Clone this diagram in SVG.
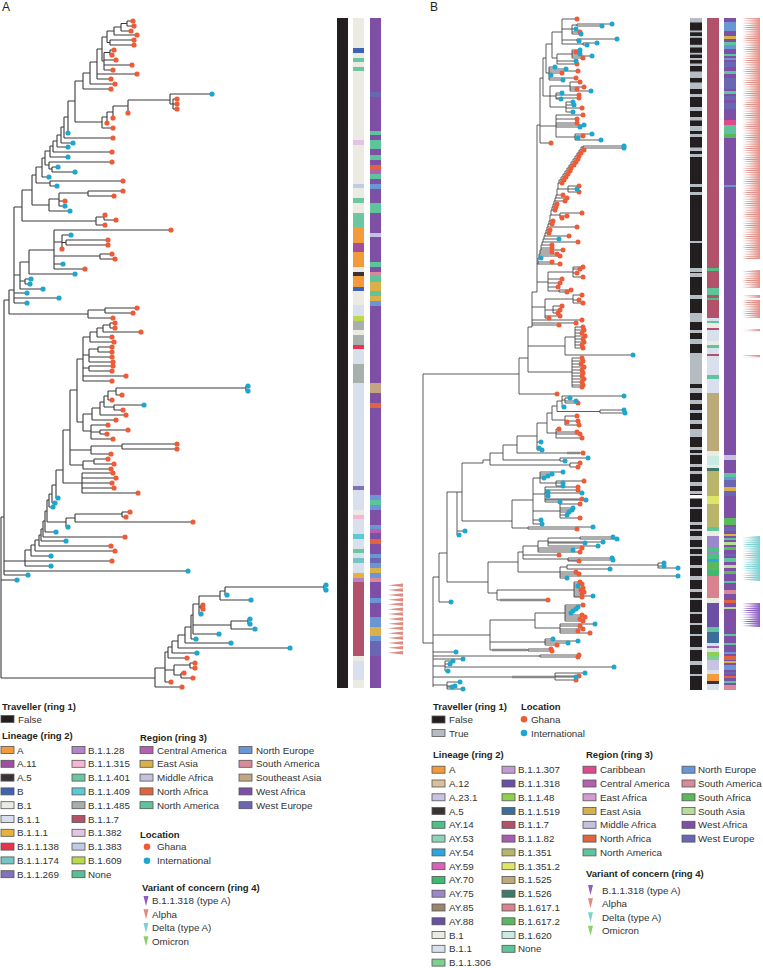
<svg xmlns="http://www.w3.org/2000/svg" xmlns:xlink="http://www.w3.org/1999/xlink" width="763" height="968" viewBox="0 0 763 968">
<style>
.br{fill:none;stroke:#3a3a3a;stroke-width:1.1}
#treeB-branches .br{stroke-width:0.8;stroke:#333}
.thk{fill:none;stroke:#8a8a8a;stroke-width:2.5}
.gh{fill:#ee5b36}
.in{fill:#1da7cf}
.t{font-family:"Liberation Sans",Arial,sans-serif;font-size:9.8px;fill:#333}
.h{font-family:"Liberation Sans",Arial,sans-serif;font-size:9.5px;font-weight:bold;fill:#231f20}
.p{font-family:"Liberation Sans",Arial,sans-serif;font-size:12px;fill:#231f20}
.sw{stroke:#555;stroke-width:0.8}
</style>
<defs>
<polygon id="wA" points="0,0 15,-1.8 15,1.8"/>
<pattern id="pAl" patternUnits="userSpaceOnUse" x="742" y="0" width="18" height="2.2"><polygon points="0,1.1 18,0 18,2.2" fill="#e3928a"/></pattern>
<pattern id="pDe" patternUnits="userSpaceOnUse" x="742" y="0" width="18" height="2.2"><polygon points="0,1.1 18,0 18,2.2" fill="#7fd0d2"/></pattern>
<pattern id="pB3" patternUnits="userSpaceOnUse" x="742" y="0" width="18" height="2.2"><polygon points="0,1.1 18,0 18,2.2" fill="#8e5cc2"/></pattern>
</defs>
<rect width="763" height="968" fill="#ffffff"/>
<text class="p" x="2" y="11">A</text>
<text class="p" x="430" y="11">B</text>

<g id="treeA-branches">
<path class="br" d="M127,21V26M127,21H133M127,26H134M121,23.5V31M121,23.5H127M121,31H131M114,27V35M114,27H121M114,35H137M110,40V45M110,40H134M110,45H134M107,31V42.5M107,31H114M107,42.5H110M110,50V55M110,50H114M110,55H112M104,52.5V70M104,52.5H110M104,60H116M104,65H132M104,70H113M102,37V61M102,37H107M102,61H104M97,49V79M97,49H102M97,74H137M97,79H111M90,62V84M90,62H97M90,84H115M83,73V89M83,73H90M83,89H111M173,99V109M173,99H177M173,104H177M173,109H177M170,94V104M170,94H212M170,104H173M128,100V113M128,100H170M113,106V118M113,106H128M107,112V123M107,112H113M102,117V128M102,117H107M102,128H113M75,81V122M75,81H83M75,122H102M68,101V133M68,101H75M64,117V138M64,117H68M64,138H113M61,127V143M61,127H64M61,143H73M57,135V147M57,135H61M57,147H68M53,141V152M53,141H57M53,152H112M50,146V157M50,146H53M50,157H68M52,167V172M52,167H58M52,172H75M49,162V169M49,162H112M49,169H52M45,151V165M45,151H50M45,165H49M42,158V177M42,158H45M42,177H49M50,181V186M50,181H123M50,186H57M36,167V183M36,167H42M36,183H50M88,191V196M88,191H123M88,196H114M59,193V206M59,193H88M59,201H65M59,206H65M49,199V211M49,199H59M49,211H70M32,175V205M32,175H36M32,205H49M104,215V220M104,215H105M104,220H116M96,217V225M96,217H104M96,225H105M22,190V221M22,190H32M22,221H96M66,240V245M66,240H108M66,245H108M62,235V249M62,235H71M62,242.5H66M100,254V259M100,254H112M100,259H115M54,230V269M54,230H171M54,242H62M54,256H100M54,264H63M54,269H85M29,250V274M29,250H54M29,274H75M25,279V284M25,279H31M25,284H30M20,262V289M20,262H29M20,281H25M20,289H43M14,207V303M14,207H22M14,275H20M14,293H27M14,298H59M14,303H27M105,308V313M105,308H137M105,313H133M88,310V318M88,310H105M88,318H113M9,290V314M9,290H14M9,314H88M110,323V328M110,323H115M110,328H115M103,325V332M103,325H110M103,332H141M97,328V337M97,328H103M97,337H112M90,332V342M90,332H97M90,342H114M98,347V352M98,347H112M98,352H112M89,349V362M89,349H98M89,357H112M89,362H113M89,366V371M89,366H113M89,371H112M83,337V381M83,337H90M83,355H89M83,368H89M83,376H126M83,381H112M246,386V391M246,386H248M246,391H248M116,388V395M116,388H246M116,395H122M108,391V400M108,391H116M108,400H112M114,405V410M114,405H144M114,410H123M104,396V407M104,396H108M104,407H114M100,402V415M100,402H104M100,415H126M92,408V420M92,408H100M92,420H116M100,430V434M100,430H128M100,434H107M91,425V439M91,425H108M91,432H100M91,439H113M83,414V431M83,414H92M83,431H91M77,359V422M77,359H83M77,422H83M122,444V449M122,444H177M122,449H177M91,446V454M91,446H122M91,454H111M94,459V464M94,459H108M94,464H114M83,461V469M83,461H94M83,469H111M70,390V465M70,390H77M70,450H91M70,465H83M82,473V493M82,473H113M82,478H116M82,483H112M82,488H114M82,493H138M63,430V483M63,430H70M63,483H82M56,470V498M56,470H63M56,498H58M52,485V503M52,485H56M52,503H55M49,494V507M49,494H52M49,507H53M122,512V517M122,512H130M122,517H126M75,514V522M75,514H122M75,522H193M66,518V527M66,518H75M66,527H68M47,500V522M47,500H49M47,522H66M45,511V532M45,511H47M45,532H56M43,521V537M43,521H45M43,537H125M41,529V541M41,529H43M41,541H66M39,535V546M39,535H41M39,546H111M35,540V551M35,540H39M35,551H115M31,545V556M31,545H35M31,556H51M25,550V566M25,550H31M25,561H112M25,566H51M4,300V575M4,300H9M4,561H25M4,571H188M4,575H28"/>
<path class="br" d="M324,585V590M324,585H326M324,590H326M225,587V595M225,587H324M225,595H227M220,591V600M220,591H225M220,600H251M201,605V609M201,605H203M201,609H203M199,596V614M199,596H220M199,607H201M199,614H201M248,619V624M248,619H250M248,624H250M231,621V629M231,621H248M231,629H255M193,604V634M193,604H199M193,625H231M193,634H219M191,615V639M191,615H193M191,639H196M185,627V643M185,627H191M185,643H231M178,635V648M178,635H185M178,648H290M172,641V653M172,641H178M172,653H197M168,647V658M168,647H172M168,658H187M190,663V668M190,663H195M190,668H195M181,673V678M181,673H184M181,678H193M174,665V675M174,665H190M174,675H181M165,652V682M165,652H168M165,670H174M165,682H171M155,668V687M155,668H165M155,687H182M1,517V678M1,517H4M1,580H17M1,678H155"/>
</g>

<g id="treeA-tips">
<g class="gh">
<circle cx="133" cy="21" r="2.6"/><circle cx="134" cy="26" r="2.6"/><circle cx="131" cy="31" r="2.6"/><circle cx="137" cy="35" r="2.6"/><circle cx="134" cy="40" r="2.6"/><circle cx="134" cy="45" r="2.6"/><circle cx="114" cy="50" r="2.6"/><circle cx="112" cy="55" r="2.6"/><circle cx="116" cy="60" r="2.6"/><circle cx="132" cy="65" r="2.6"/><circle cx="113" cy="70" r="2.6"/><circle cx="137" cy="74" r="2.6"/><circle cx="111" cy="79" r="2.6"/><circle cx="115" cy="84" r="2.6"/><circle cx="111" cy="89" r="2.6"/>
<circle cx="177" cy="99" r="2.6"/><circle cx="177" cy="104" r="2.6"/><circle cx="177" cy="109" r="2.6"/><circle cx="128" cy="113" r="2.6"/><circle cx="113" cy="118" r="2.6"/><circle cx="107" cy="123" r="2.6"/><circle cx="113" cy="128" r="2.6"/>
<circle cx="113" cy="138" r="2.6"/><circle cx="112" cy="152" r="2.6"/><circle cx="112" cy="162" r="2.6"/><circle cx="123" cy="181" r="2.6"/>
<circle cx="123" cy="191" r="2.6"/><circle cx="114" cy="196" r="2.6"/><circle cx="65" cy="201" r="2.6"/>
<circle cx="105" cy="215" r="2.6"/><circle cx="116" cy="220" r="2.6"/><circle cx="105" cy="225" r="2.6"/><circle cx="171" cy="230" r="2.6"/>
<circle cx="108" cy="240" r="2.6"/><circle cx="108" cy="245" r="2.6"/><circle cx="62" cy="249" r="2.6"/><circle cx="112" cy="254" r="2.6"/><circle cx="115" cy="259" r="2.6"/><circle cx="85" cy="269" r="2.6"/>
<circle cx="137" cy="308" r="2.6"/><circle cx="133" cy="313" r="2.6"/><circle cx="113" cy="318" r="2.6"/><circle cx="115" cy="323" r="2.6"/><circle cx="115" cy="328" r="2.6"/><circle cx="141" cy="332" r="2.6"/><circle cx="112" cy="337" r="2.6"/><circle cx="114" cy="342" r="2.6"/><circle cx="112" cy="347" r="2.6"/><circle cx="112" cy="352" r="2.6"/><circle cx="112" cy="357" r="2.6"/><circle cx="113" cy="362" r="2.6"/><circle cx="113" cy="366" r="2.6"/><circle cx="112" cy="371" r="2.6"/><circle cx="126" cy="376" r="2.6"/><circle cx="112" cy="381" r="2.6"/>
<circle cx="122" cy="395" r="2.6"/><circle cx="112" cy="400" r="2.6"/>
<circle cx="123" cy="410" r="2.6"/><circle cx="126" cy="415" r="2.6"/><circle cx="116" cy="420" r="2.6"/><circle cx="108" cy="425" r="2.6"/><circle cx="128" cy="430" r="2.6"/><circle cx="107" cy="434" r="2.6"/><circle cx="113" cy="439" r="2.6"/><circle cx="177" cy="444" r="2.6"/><circle cx="177" cy="449" r="2.6"/><circle cx="111" cy="454" r="2.6"/><circle cx="108" cy="459" r="2.6"/><circle cx="114" cy="464" r="2.6"/><circle cx="111" cy="469" r="2.6"/><circle cx="113" cy="473" r="2.6"/><circle cx="116" cy="478" r="2.6"/><circle cx="112" cy="483" r="2.6"/><circle cx="114" cy="488" r="2.6"/><circle cx="138" cy="493" r="2.6"/>
<circle cx="130" cy="512" r="2.6"/><circle cx="126" cy="517" r="2.6"/><circle cx="193" cy="522" r="2.6"/><circle cx="125" cy="537" r="2.6"/><circle cx="111" cy="546" r="2.6"/><circle cx="115" cy="551" r="2.6"/><circle cx="112" cy="561" r="2.6"/>
<circle cx="203" cy="605" r="2.6"/><circle cx="203" cy="609" r="2.6"/>
<circle cx="187" cy="658" r="2.6"/><circle cx="195" cy="663" r="2.6"/><circle cx="195" cy="668" r="2.6"/><circle cx="184" cy="673" r="2.6"/><circle cx="193" cy="678" r="2.6"/><circle cx="171" cy="682" r="2.6"/><circle cx="182" cy="687" r="2.6"/>
</g>
<g class="in">
<circle cx="212" cy="94" r="2.6"/><circle cx="68" cy="133" r="2.6"/><circle cx="73" cy="143" r="2.6"/><circle cx="68" cy="147" r="2.6"/><circle cx="68" cy="157" r="2.6"/><circle cx="58" cy="167" r="2.6"/><circle cx="75" cy="172" r="2.6"/><circle cx="49" cy="177" r="2.6"/><circle cx="57" cy="186" r="2.6"/><circle cx="65" cy="206" r="2.6"/><circle cx="70" cy="211" r="2.6"/><circle cx="71" cy="235" r="2.6"/><circle cx="63" cy="264" r="2.6"/>
<circle cx="75" cy="274" r="2.6"/><circle cx="31" cy="279" r="2.6"/><circle cx="30" cy="284" r="2.6"/><circle cx="43" cy="289" r="2.6"/><circle cx="27" cy="293" r="2.6"/><circle cx="59" cy="298" r="2.6"/><circle cx="27" cy="303" r="2.6"/>
<circle cx="248" cy="386" r="2.6"/><circle cx="248" cy="391" r="2.6"/><circle cx="144" cy="405" r="2.6"/>
<circle cx="58" cy="498" r="2.6"/><circle cx="55" cy="503" r="2.6"/><circle cx="53" cy="507" r="2.6"/><circle cx="68" cy="527" r="2.6"/><circle cx="56" cy="532" r="2.6"/><circle cx="66" cy="541" r="2.6"/><circle cx="51" cy="556" r="2.6"/><circle cx="51" cy="566" r="2.6"/><circle cx="188" cy="571" r="2.6"/><circle cx="28" cy="575" r="2.6"/><circle cx="17" cy="580" r="2.6"/>
<circle cx="326" cy="585" r="2.6"/><circle cx="326" cy="590" r="2.6"/><circle cx="227" cy="595" r="2.6"/><circle cx="251" cy="600" r="2.6"/><circle cx="201" cy="614" r="2.6"/><circle cx="250" cy="619" r="2.6"/><circle cx="250" cy="624" r="2.6"/><circle cx="255" cy="629" r="2.6"/><circle cx="219" cy="634" r="2.6"/><circle cx="196" cy="639" r="2.6"/><circle cx="231" cy="643" r="2.6"/><circle cx="290" cy="648" r="2.6"/><circle cx="197" cy="653" r="2.6"/>
</g>
</g>

<g id="treeA-rings">
<rect x="337" y="18" width="11" height="670" fill="#231f20"/>
<rect x="353" y="18" width="11" height="670" fill="#ebebe3"/>
<rect x="353" y="48" width="11" height="5" fill="#4062b5"/>
<rect x="353" y="58" width="11" height="4" fill="#6cc7a0"/>
<rect x="353" y="67" width="11" height="4" fill="#6cc7a0"/>
<rect x="353" y="140" width="11" height="5" fill="#e2c4e4"/>
<rect x="353" y="184" width="11" height="4" fill="#c0cce6"/>
<rect x="353" y="198" width="11" height="5" fill="#6cc7a0"/>
<rect x="353" y="213" width="11" height="14" fill="#6cc7a0"/>
<rect x="353" y="227" width="11" height="16" fill="#f39b3a"/>
<rect x="353" y="243" width="11" height="9" fill="#a14ea0"/>
<rect x="353" y="252" width="11" height="15" fill="#f39b3a"/>
<rect x="353" y="272" width="11" height="4" fill="#3b3233"/>
<rect x="353" y="276" width="11" height="11" fill="#f39b3a"/>
<rect x="353" y="287" width="11" height="4" fill="#4062b5"/>
<rect x="353" y="305" width="11" height="11" fill="#d8e0ed"/>
<rect x="353" y="316" width="11" height="5" fill="#bcd84e"/>
<rect x="353" y="321" width="11" height="9" fill="#a8b0ad"/>
<rect x="353" y="335" width="11" height="10" fill="#a8b0ad"/>
<rect x="353" y="345" width="11" height="4" fill="#e8334f"/>
<rect x="353" y="349" width="11" height="15" fill="#d8e0ed"/>
<rect x="353" y="364" width="11" height="19" fill="#a8b0ad"/>
<rect x="353" y="383" width="11" height="103" fill="#d8e0ed"/>
<rect x="353" y="486" width="11" height="4" fill="#8370b6"/>
<rect x="353" y="490" width="11" height="20" fill="#d8e0ed"/>
<rect x="353" y="515" width="11" height="4" fill="#f5b6d3"/>
<rect x="353" y="519" width="11" height="15" fill="#d8e0ed"/>
<rect x="353" y="534" width="11" height="5" fill="#5ec9d6"/>
<rect x="353" y="539" width="11" height="10" fill="#d8e0ed"/>
<rect x="353" y="549" width="11" height="4" fill="#6cc7a0"/>
<rect x="353" y="553" width="11" height="5" fill="#d8e0ed"/>
<rect x="353" y="558" width="11" height="5" fill="#76c4c4"/>
<rect x="353" y="563" width="11" height="10" fill="#d8e0ed"/>
<rect x="353" y="573" width="11" height="5" fill="#e6b23c"/>
<rect x="353" y="578" width="11" height="4" fill="#b185c7"/>
<rect x="353" y="582" width="11" height="74" fill="#b2516a"/>
<rect x="353" y="661" width="11" height="19" fill="#d8e0ed"/>
<rect x="370" y="18" width="11" height="670" fill="#7d4fa5"/>
<rect x="370" y="92" width="11" height="5" fill="#6b66b3"/>
<rect x="370" y="131" width="11" height="4" fill="#5fc49b"/>
<rect x="370" y="140" width="11" height="9" fill="#5fc49b"/>
<rect x="370" y="155" width="11" height="5" fill="#5fc49b"/>
<rect x="370" y="165" width="11" height="4" fill="#e0653f"/>
<rect x="370" y="169" width="11" height="5" fill="#b45fb0"/>
<rect x="370" y="174" width="11" height="5" fill="#5fc49b"/>
<rect x="370" y="184" width="11" height="5" fill="#6a96d6"/>
<rect x="370" y="203" width="11" height="10" fill="#5fc49b"/>
<rect x="370" y="233" width="11" height="4" fill="#c3c1df"/>
<rect x="370" y="262" width="11" height="5" fill="#5fc49b"/>
<rect x="370" y="272" width="11" height="4" fill="#d98a98"/>
<rect x="370" y="276" width="11" height="6" fill="#5fc49b"/>
<rect x="370" y="282" width="11" height="9" fill="#d9b04a"/>
<rect x="370" y="291" width="11" height="5" fill="#5fc49b"/>
<rect x="370" y="296" width="11" height="5" fill="#d9b04a"/>
<rect x="370" y="301" width="11" height="5" fill="#6a96d6"/>
<rect x="370" y="383" width="11" height="10" fill="#c4a482"/>
<rect x="370" y="403" width="11" height="5" fill="#e0653f"/>
<rect x="370" y="495" width="11" height="5" fill="#6a96d6"/>
<rect x="370" y="500" width="11" height="5" fill="#5fc49b"/>
<rect x="370" y="505" width="11" height="5" fill="#6a96d6"/>
<rect x="370" y="525" width="11" height="4" fill="#6a96d6"/>
<rect x="370" y="529" width="11" height="4" fill="#b45fb0"/>
<rect x="370" y="539" width="11" height="5" fill="#e0653f"/>
<rect x="370" y="554" width="11" height="4" fill="#6a96d6"/>
<rect x="370" y="558" width="11" height="5" fill="#6b66b3"/>
<rect x="370" y="563" width="11" height="5" fill="#6a96d6"/>
<rect x="370" y="568" width="11" height="5" fill="#d9b04a"/>
<rect x="370" y="573" width="11" height="5" fill="#6a96d6"/>
<rect x="370" y="578" width="11" height="4" fill="#d98a98"/>
<rect x="370" y="598" width="11" height="5" fill="#6a96d6"/>
<rect x="370" y="617" width="11" height="10" fill="#6a96d6"/>
<rect x="370" y="627" width="11" height="9" fill="#d9b04a"/>
<rect x="370" y="636" width="11" height="5" fill="#6a96d6"/>
<rect x="370" y="641" width="11" height="15" fill="#6b66b3"/>
<g fill="#e08a80">
<use xlink:href="#wA" x="388" y="585.3"/><use xlink:href="#wA" x="388" y="590"/><use xlink:href="#wA" x="388" y="595"/><use xlink:href="#wA" x="388" y="599.7"/><use xlink:href="#wA" x="388" y="604.3"/><use xlink:href="#wA" x="388" y="609.3"/><use xlink:href="#wA" x="388" y="614"/><use xlink:href="#wA" x="388" y="619"/><use xlink:href="#wA" x="388" y="623.7"/><use xlink:href="#wA" x="388" y="628.3"/><use xlink:href="#wA" x="388" y="633.3"/><use xlink:href="#wA" x="388" y="638"/><use xlink:href="#wA" x="388" y="643"/><use xlink:href="#wA" x="388" y="647.7"/><use xlink:href="#wA" x="388" y="652.7"/>
</g>
</g>

<g id="treeB-branches">
<path class="br" d="M577,24V26M577,24H612M577,26H602M572,25V34M572,25H577M572,29H576M572,32H580M572,34H581M577,39V41M577,39H617M577,41H579M583,43V45M583,43H597M583,45H587M562,19V44M562,19H577M562,29H572M562,40H577M562,44H583M572,50V58M572,50H580M572,52H576M572,54H580M572,56H592M572,58H583M557,54V64M557,54H572M557,61H576M557,64H577M549,67V80M549,67H555M549,69H566M549,71H578M549,73H562M549,75H551M549,78H576M549,80H563M570,82V91M570,82H580M570,87H584M570,89H577M570,91H591M556,93V99M556,93H562M556,95H579M556,98H579M556,99H561M566,102V112M566,102H573M566,105H574M566,108H582M566,112H573M550,86V107M550,86H570M550,96H556M550,107H566M575,134V140M575,134H592M575,136H583M575,138H578M575,140H601M556,115V137M556,115H583M556,119H577M556,123H577M556,125H584M556,127H580M556,137H575M552,32V58M552,32H562M552,58H557M546,44V73M546,44H552M546,73H549M543,58V96M543,58H546M543,96H550M540,78V143M540,78H543M540,126H556M540,143H551M537,125V292M537,125H540"/>
<path class="br" d="M583,146V148M583,146H624M583,148H624M581,147V150H584M581,147H583M579,150V153H581M579,150H581M577,153V156H579M577,153H579M575,156V159H578M575,156H577M573,159V162H576M573,159H575M571,162V165H574M571,162H573M569,165V168H571M569,165H571M567,168V171H570M567,168H569M565,171V174H568M565,171H567M563,174V177H566M563,174H565M561,177V180H564M561,177H563M559,180V183H562M559,180H561M568,186V192M568,186H579M568,189H577M568,192H579M558,183V189H568M558,183H559M557,189V195H563M557,189H558M556,195V198H567M556,195H557M555,198V201H565M555,198H556M554,201V204H557M554,201H555M553,204V207H556M553,204H554M552,207V210H555M552,207H553M560,213V218M560,213H582M560,216H567M560,218H562M551,210V215H560M551,210H552M550,215V221H553M550,215H551M549,221V224H552M549,221H550M548,224V227H577M548,224H549M547,227V230H550M547,227H548M546,230V233H549M546,230H547M545,233V236H569M545,233H546M544,236V239H559M544,236H545M543,239V242H578M543,239H544M542,242V245H552M542,242H543M541,245V248H552M541,245H542M541,248V250H563M540,250V252H552M540,250H541M540,252V254H557M539,254V256H560M539,254H540M539,256V258H541M538,258V262H552M538,258H539M538,262V264H560M537,264H538"/>
<path class="br" d="M573,267V277M573,267H583M573,269H580M573,273H577M573,277H583M559,290V292M559,290H571M559,292H567M548,272V291M548,272H573M548,279H562M548,283H560M548,287H558M548,291H559M537,282H548M532,292H537M573,295V303M573,295H582M573,300H579M573,303H583M553,306V313M553,306H562M553,310H560M553,313H558M545,299V318M545,299H573M545,310H553M545,316H560M545,318H549M532,292V327M532,307H545M532,320H582M532,323H576M532,325H559M528,327H532M575,327V348M575,327H583M575,330H584M575,333H582M575,336H585M575,339H583M575,342H584M575,345H582M575,348H583M565,337V355M565,337H575M565,355H633M572,358V387M572,358H582M572,361H583M572,364H581M572,367H584M572,370H582M572,373H583M572,376H582M572,379H584M572,382H582M572,385H583M572,387H582M528,327V372M528,346H565M528,372H572M519,358V394M519,358H528M519,394H557M423,374V643M423,374H519M423,643H433"/>
<path class="br" d="M565,398V403M565,398H570M565,401H576M565,403H578M562,396V407M562,396H624M562,400H565M562,407H564M600,410V413M600,410H624M600,413H625M557,401V411.5M557,401H562M557,411.5H600M565,416V425M565,416H577M565,421H578M565,422H567M565,425H579M552,406V420M552,406H557M552,420H565M556,429V438M556,429H559M556,432H577M556,434H580M556,438H582M547,413V433M547,413H552M547,433H556M537,423V450M537,423H547M537,442H541M537,448H539M537,450H542M517,436V453M517,436H537M517,453H583M560,458V461M560,458H588M560,461H565M503,445V460M503,445H517M503,460H560M570,463V467M570,463H580M570,467H578M490,453V465M490,453H503M490,465H570M483,460V463M483,460H490M462,463V521M462,463H483M462,521H512"/>
<path class="br" d="M556,481V486M556,481H584M556,483H563M556,486H563M540,472V483M540,472H563M540,474H552M540,476H548M540,478H544M540,483H556M545,487V502M545,487H578M545,490H578M545,492H548M545,493H582M545,496H548M545,499H582M545,500H586M545,502H560M560,504V518M560,504H580M560,508H573M560,510H572M560,512H569M560,515H567M560,518H580M533,478V524M533,478H540M533,494H545M533,511H560M533,520H541M533,524H542M528,527V529M528,527H593M528,529H577M512,500V528M512,500H533M512,528H528M457,492V535M457,492H462M457,531H465M457,535H459M447,492V582M447,492H457M447,582H488M439,553V602M439,553H447M439,602H451M433,577H439"/>
<path class="br" d="M580,537V539M580,537H613M580,539H617M548,538V546M548,538H580M548,542H603M548,543H585M548,546H598M538,541V552M538,541H548M538,548H582M538,550H573M538,552H580M568,558V561M568,558H612M568,560H613M568,561H579M523,546V559M523,546H538M523,555H559M523,559H568M658,563V568M658,563H664M658,566H664M658,568H678M567,565V569M567,565H658M567,569H610M560,567V578M560,567H567M560,572H576M560,574H579M560,576H678M560,578H567M518,552V572M518,552H523M518,572H560M574,582V597M574,582H580M574,584H582M574,586H578M574,588H583M574,590H581M574,592H584M574,594H582M574,596H593M574,597H582M497,590V600M497,590H574M497,600H548M488,562V593M488,562H518M488,593H497"/>
<path class="br" d="M565,605V621M565,605H583M565,607H578M565,609H576M565,611H573M565,613H571M565,615H582M565,617H585M565,619H580M565,621H583M560,624V633M560,624H595M560,626H580M560,629H583M560,631H578M560,633H590M535,613V628M535,613H565M535,628H560M545,639V645M545,639H553M545,641H578M545,643H568M545,645H557M528,649V651M528,649H551M528,651H552M490,620V650M490,620H535M490,642H545M490,650H528M433,577V687M433,635H490M433,652H456M433,656H540M540,655V657M540,655H579M540,657H578M433,659H463M433,666H445M445,661V671M445,661H453M445,664H450M445,667H614M445,671H448M433,677H555M555,673V680M555,673H585M555,676H579M555,677H576M555,680H576M433,685H447M447,682V689M447,682H460M447,686H455M447,687H452M447,689H463"/>
<path class="thk" d="M500,600H546M512,677H554M492,650H527M567,453H580"/>
</g>

<g id="treeB-tips">
<g class="gh">
<circle cx="577" cy="19" r="2.5"/><circle cx="580" cy="32" r="2.5"/><circle cx="576" cy="52" r="2.5"/><circle cx="583" cy="58" r="2.5"/><circle cx="577" cy="64" r="2.5"/><circle cx="578" cy="71" r="2.5"/><circle cx="562" cy="73" r="2.5"/><circle cx="576" cy="78" r="2.5"/><circle cx="580" cy="82" r="2.5"/><circle cx="584" cy="87" r="2.5"/><circle cx="577" cy="89" r="2.5"/><circle cx="579" cy="95" r="2.5"/><circle cx="579" cy="98" r="2.5"/><circle cx="582" cy="108" r="2.5"/><circle cx="583" cy="115" r="2.5"/><circle cx="577" cy="119" r="2.5"/><circle cx="577" cy="123" r="2.5"/><circle cx="583" cy="136" r="2.5"/><circle cx="551" cy="143" r="2.5"/>
<circle cx="584" cy="150" r="2.5"/><circle cx="581" cy="153" r="2.5"/><circle cx="579" cy="156" r="2.5"/><circle cx="578" cy="159" r="2.5"/><circle cx="576" cy="162" r="2.5"/><circle cx="574" cy="165" r="2.5"/><circle cx="571" cy="168" r="2.5"/><circle cx="570" cy="171" r="2.5"/><circle cx="568" cy="174" r="2.5"/><circle cx="566" cy="177" r="2.5"/><circle cx="564" cy="180" r="2.5"/><circle cx="562" cy="183" r="2.5"/><circle cx="579" cy="186" r="2.5"/><circle cx="579" cy="192" r="2.5"/><circle cx="563" cy="195" r="2.5"/><circle cx="567" cy="198" r="2.5"/><circle cx="565" cy="201" r="2.5"/><circle cx="557" cy="204" r="2.5"/><circle cx="556" cy="207" r="2.5"/><circle cx="555" cy="210" r="2.5"/><circle cx="582" cy="213" r="2.5"/><circle cx="567" cy="216" r="2.5"/><circle cx="562" cy="218" r="2.5"/><circle cx="553" cy="221" r="2.5"/><circle cx="552" cy="224" r="2.5"/><circle cx="577" cy="227" r="2.5"/><circle cx="550" cy="230" r="2.5"/><circle cx="549" cy="233" r="2.5"/><circle cx="569" cy="236" r="2.5"/><circle cx="578" cy="242" r="2.5"/><circle cx="552" cy="245" r="2.5"/><circle cx="552" cy="248" r="2.5"/><circle cx="563" cy="250" r="2.5"/><circle cx="552" cy="252" r="2.5"/><circle cx="557" cy="254" r="2.5"/><circle cx="560" cy="256" r="2.5"/><circle cx="552" cy="262" r="2.5"/><circle cx="560" cy="264" r="2.5"/>
<circle cx="583" cy="267" r="2.5"/><circle cx="580" cy="269" r="2.5"/><circle cx="577" cy="273" r="2.5"/><circle cx="583" cy="277" r="2.5"/><circle cx="562" cy="279" r="2.5"/><circle cx="560" cy="283" r="2.5"/><circle cx="558" cy="287" r="2.5"/><circle cx="571" cy="290" r="2.5"/><circle cx="567" cy="292" r="2.5"/>
<circle cx="582" cy="295" r="2.5"/><circle cx="579" cy="300" r="2.5"/><circle cx="583" cy="303" r="2.5"/><circle cx="562" cy="306" r="2.5"/><circle cx="560" cy="310" r="2.5"/><circle cx="558" cy="313" r="2.5"/><circle cx="560" cy="316" r="2.5"/><circle cx="549" cy="318" r="2.5"/><circle cx="582" cy="320" r="2.5"/><circle cx="576" cy="323" r="2.5"/><circle cx="559" cy="325" r="2.5"/>
<circle cx="583" cy="327" r="2.5"/><circle cx="584" cy="330" r="2.5"/><circle cx="582" cy="333" r="2.5"/><circle cx="585" cy="336" r="2.5"/><circle cx="583" cy="339" r="2.5"/><circle cx="584" cy="342" r="2.5"/><circle cx="582" cy="345" r="2.5"/><circle cx="583" cy="348" r="2.5"/>
<circle cx="582" cy="358" r="2.5"/><circle cx="583" cy="361" r="2.5"/><circle cx="581" cy="364" r="2.5"/><circle cx="584" cy="367" r="2.5"/><circle cx="582" cy="370" r="2.5"/><circle cx="583" cy="373" r="2.5"/><circle cx="582" cy="376" r="2.5"/><circle cx="584" cy="379" r="2.5"/><circle cx="582" cy="382" r="2.5"/><circle cx="583" cy="385" r="2.5"/><circle cx="582" cy="387" r="2.5"/><circle cx="557" cy="394" r="2.5"/>
<circle cx="578" cy="403" r="2.5"/><circle cx="577" cy="416" r="2.5"/><circle cx="578" cy="421" r="2.5"/><circle cx="567" cy="422" r="2.5"/><circle cx="579" cy="425" r="2.5"/><circle cx="559" cy="429" r="2.5"/><circle cx="577" cy="432" r="2.5"/><circle cx="580" cy="434" r="2.5"/><circle cx="582" cy="438" r="2.5"/><circle cx="583" cy="453" r="2.5"/><circle cx="580" cy="463" r="2.5"/><circle cx="578" cy="467" r="2.5"/>
<circle cx="584" cy="481" r="2.5"/><circle cx="578" cy="487" r="2.5"/><circle cx="578" cy="490" r="2.5"/><circle cx="582" cy="499" r="2.5"/><circle cx="580" cy="504" r="2.5"/><circle cx="580" cy="518" r="2.5"/><circle cx="577" cy="529" r="2.5"/>
<circle cx="582" cy="548" r="2.5"/><circle cx="580" cy="552" r="2.5"/><circle cx="559" cy="555" r="2.5"/><circle cx="579" cy="561" r="2.5"/><circle cx="576" cy="572" r="2.5"/><circle cx="579" cy="574" r="2.5"/><circle cx="580" cy="582" r="2.5"/><circle cx="582" cy="584" r="2.5"/><circle cx="583" cy="588" r="2.5"/><circle cx="581" cy="590" r="2.5"/><circle cx="584" cy="592" r="2.5"/><circle cx="582" cy="594" r="2.5"/><circle cx="582" cy="597" r="2.5"/><circle cx="548" cy="600" r="2.5"/>
<circle cx="583" cy="605" r="2.5"/><circle cx="582" cy="615" r="2.5"/><circle cx="585" cy="617" r="2.5"/><circle cx="580" cy="619" r="2.5"/><circle cx="583" cy="621" r="2.5"/><circle cx="580" cy="626" r="2.5"/><circle cx="583" cy="629" r="2.5"/><circle cx="578" cy="631" r="2.5"/><circle cx="590" cy="633" r="2.5"/><circle cx="557" cy="645" r="2.5"/><circle cx="551" cy="649" r="2.5"/><circle cx="552" cy="651" r="2.5"/>
<circle cx="579" cy="655" r="2.5"/><circle cx="578" cy="657" r="2.5"/><circle cx="579" cy="676" r="2.5"/><circle cx="576" cy="680" r="2.5"/>
</g>
<g class="in">
<circle cx="612" cy="24" r="2.5"/><circle cx="602" cy="26" r="2.5"/><circle cx="576" cy="29" r="2.5"/><circle cx="581" cy="34" r="2.5"/><circle cx="617" cy="39" r="2.5"/><circle cx="579" cy="41" r="2.5"/><circle cx="597" cy="43" r="2.5"/><circle cx="587" cy="45" r="2.5"/><circle cx="580" cy="50" r="2.5"/><circle cx="580" cy="54" r="2.5"/><circle cx="592" cy="56" r="2.5"/><circle cx="576" cy="61" r="2.5"/><circle cx="555" cy="67" r="2.5"/><circle cx="566" cy="69" r="2.5"/><circle cx="551" cy="75" r="2.5"/><circle cx="563" cy="80" r="2.5"/><circle cx="591" cy="91" r="2.5"/><circle cx="562" cy="93" r="2.5"/><circle cx="561" cy="99" r="2.5"/><circle cx="573" cy="102" r="2.5"/><circle cx="574" cy="105" r="2.5"/><circle cx="573" cy="112" r="2.5"/><circle cx="584" cy="125" r="2.5"/><circle cx="580" cy="127" r="2.5"/><circle cx="592" cy="134" r="2.5"/><circle cx="578" cy="138" r="2.5"/><circle cx="601" cy="140" r="2.5"/>
<circle cx="624" cy="146" r="2.5"/><circle cx="624" cy="148" r="2.5"/><circle cx="577" cy="189" r="2.5"/><circle cx="559" cy="239" r="2.5"/><circle cx="541" cy="258" r="2.5"/><circle cx="633" cy="355" r="2.5"/>
<circle cx="624" cy="396" r="2.5"/><circle cx="570" cy="398" r="2.5"/><circle cx="576" cy="401" r="2.5"/><circle cx="564" cy="407" r="2.5"/><circle cx="624" cy="410" r="2.5"/><circle cx="625" cy="413" r="2.5"/><circle cx="541" cy="442" r="2.5"/><circle cx="539" cy="448" r="2.5"/><circle cx="542" cy="450" r="2.5"/><circle cx="588" cy="458" r="2.5"/><circle cx="565" cy="461" r="2.5"/>
<circle cx="563" cy="472" r="2.5"/><circle cx="552" cy="474" r="2.5"/><circle cx="548" cy="476" r="2.5"/><circle cx="544" cy="478" r="2.5"/><circle cx="563" cy="483" r="2.5"/><circle cx="563" cy="486" r="2.5"/><circle cx="548" cy="492" r="2.5"/><circle cx="582" cy="493" r="2.5"/><circle cx="548" cy="496" r="2.5"/><circle cx="586" cy="500" r="2.5"/><circle cx="560" cy="502" r="2.5"/><circle cx="573" cy="508" r="2.5"/><circle cx="572" cy="510" r="2.5"/><circle cx="569" cy="512" r="2.5"/><circle cx="567" cy="515" r="2.5"/><circle cx="541" cy="520" r="2.5"/><circle cx="542" cy="524" r="2.5"/><circle cx="593" cy="527" r="2.5"/><circle cx="465" cy="531" r="2.5"/><circle cx="459" cy="535" r="2.5"/>
<circle cx="613" cy="537" r="2.5"/><circle cx="617" cy="539" r="2.5"/><circle cx="603" cy="542" r="2.5"/><circle cx="585" cy="543" r="2.5"/><circle cx="598" cy="546" r="2.5"/><circle cx="573" cy="550" r="2.5"/><circle cx="612" cy="558" r="2.5"/><circle cx="613" cy="560" r="2.5"/><circle cx="664" cy="563" r="2.5"/><circle cx="664" cy="566" r="2.5"/><circle cx="678" cy="568" r="2.5"/><circle cx="610" cy="569" r="2.5"/><circle cx="567" cy="578" r="2.5"/><circle cx="678" cy="576" r="2.5"/><circle cx="578" cy="586" r="2.5"/><circle cx="593" cy="596" r="2.5"/><circle cx="451" cy="602" r="2.5"/>
<circle cx="578" cy="607" r="2.5"/><circle cx="576" cy="609" r="2.5"/><circle cx="573" cy="611" r="2.5"/><circle cx="571" cy="613" r="2.5"/><circle cx="595" cy="624" r="2.5"/><circle cx="553" cy="639" r="2.5"/><circle cx="578" cy="641" r="2.5"/><circle cx="568" cy="643" r="2.5"/>
<circle cx="456" cy="652" r="2.5"/><circle cx="463" cy="659" r="2.5"/><circle cx="453" cy="661" r="2.5"/><circle cx="450" cy="664" r="2.5"/><circle cx="614" cy="667" r="2.5"/><circle cx="448" cy="671" r="2.5"/><circle cx="585" cy="673" r="2.5"/><circle cx="576" cy="677" r="2.5"/><circle cx="460" cy="682" r="2.5"/><circle cx="455" cy="686" r="2.5"/><circle cx="452" cy="687" r="2.5"/><circle cx="463" cy="689" r="2.5"/>
</g>
</g>

<g id="treeB-rings">
<rect x="690" y="18" width="12" height="672" fill="#231f20"/>
<g fill="#b5bcc4">
<rect x="690" y="18" width="12" height="4.5"/><rect x="690" y="30.5" width="12" height="1.8"/><rect x="690" y="36" width="12" height="1.8"/><rect x="690" y="44.8" width="12" height="2.7"/><rect x="690" y="52.8" width="12" height="1.8"/><rect x="690" y="58" width="12" height="2"/><rect x="690" y="63.5" width="12" height="2.5"/><rect x="690" y="71.5" width="12" height="6.5"/><rect x="690" y="82.5" width="12" height="6.5"/><rect x="690" y="94" width="12" height="3"/><rect x="690" y="107" width="12" height="4"/><rect x="690" y="117" width="12" height="3.5"/><rect x="690" y="126" width="12" height="5"/><rect x="690" y="134" width="12" height="3"/><rect x="690" y="147.5" width="12" height="3.5"/><rect x="690" y="154" width="12" height="3"/><rect x="690" y="184" width="12" height="3"/><rect x="690" y="192" width="12" height="3"/><rect x="690" y="241" width="12" height="2"/><rect x="690" y="268" width="12" height="4"/><rect x="690" y="273" width="12" height="4"/><rect x="690" y="295" width="12" height="4"/><rect x="690" y="313" width="12" height="9"/><rect x="690" y="330" width="12" height="3"/><rect x="690" y="339" width="12" height="5"/><rect x="690" y="353" width="12" height="31"/><rect x="690" y="388" width="12" height="5"/><rect x="690" y="400" width="12" height="4"/><rect x="690" y="410" width="12" height="3"/><rect x="690" y="420" width="12" height="4"/><rect x="690" y="429" width="12" height="8"/><rect x="690" y="447" width="12" height="3"/><rect x="690" y="453" width="12" height="2"/><rect x="690" y="464" width="12" height="3"/><rect x="690" y="471" width="12" height="3"/><rect x="690" y="482" width="12" height="4"/><rect x="690" y="491" width="12" height="3"/><rect x="690" y="507" width="12" height="2"/><rect x="690" y="522" width="12" height="3"/><rect x="690" y="529" width="12" height="2"/><rect x="690" y="536" width="12" height="4"/><rect x="690" y="547" width="12" height="2"/><rect x="690" y="554" width="12" height="2"/><rect x="690" y="565" width="12" height="3"/><rect x="690" y="576" width="12" height="4"/><rect x="690" y="589" width="12" height="3"/><rect x="690" y="598" width="12" height="2"/><rect x="690" y="612" width="12" height="2"/><rect x="690" y="623" width="12" height="2"/><rect x="690" y="634" width="12" height="2"/><rect x="690" y="647" width="12" height="3"/><rect x="690" y="661" width="12" height="4"/><rect x="690" y="674" width="12" height="2"/>
</g>
<rect x="690" y="495" width="12" height="3.5" fill="#ffffff"/>
<rect x="707" y="18" width="12" height="672" fill="#b2516a"/>
<rect x="707" y="268" width="12" height="3" fill="#4fbf85"/>
<rect x="707" y="288" width="12" height="7" fill="#5fc49b"/>
<rect x="707" y="298" width="12" height="2" fill="#4fbf85"/>
<rect x="707" y="318" width="12" height="3" fill="#d8e0ed"/>
<rect x="707" y="321" width="12" height="2" fill="#5fc49b"/>
<rect x="707" y="323" width="12" height="5" fill="#ebebe3"/>
<rect x="707" y="330" width="12" height="11" fill="#d8e0ed"/>
<rect x="707" y="341" width="12" height="4" fill="#ebebe3"/>
<rect x="707" y="345" width="12" height="3" fill="#5fc49b"/>
<rect x="707" y="348" width="12" height="6" fill="#d8e0ed"/>
<rect x="707" y="356" width="12" height="19" fill="#d8e0ed"/>
<rect x="707" y="375" width="12" height="4" fill="#5fc49b"/>
<rect x="707" y="379" width="12" height="14" fill="#d8e0ed"/>
<rect x="707" y="393" width="12" height="58" fill="#bcaa78"/>
<rect x="707" y="451" width="12" height="5" fill="#ebebe3"/>
<rect x="707" y="456" width="12" height="9" fill="#c8ece4"/>
<rect x="707" y="465" width="12" height="3" fill="#ebebe3"/>
<rect x="707" y="468" width="12" height="3" fill="#3d7a6a"/>
<rect x="707" y="471" width="12" height="25" fill="#b8b56a"/>
<rect x="707" y="496" width="12" height="8" fill="#dde56a"/>
<rect x="707" y="504" width="12" height="23" fill="#b8b56a"/>
<rect x="707" y="527" width="12" height="4" fill="#5fc49b"/>
<rect x="707" y="531" width="12" height="5" fill="#ebebe3"/>
<rect x="707" y="536" width="12" height="12" fill="#9b87c9"/>
<rect x="707" y="548" width="12" height="3" fill="#4fbf85"/>
<rect x="707" y="551" width="12" height="3" fill="#9b87c9"/>
<rect x="707" y="554" width="12" height="5" fill="#4fbf85"/>
<rect x="707" y="559" width="12" height="3" fill="#2da6e0"/>
<rect x="707" y="562" width="12" height="8" fill="#5cb860"/>
<rect x="707" y="570" width="12" height="6" fill="#3fb870"/>
<rect x="707" y="576" width="12" height="22" fill="#d98390"/>
<rect x="707" y="598" width="12" height="5" fill="#ebebe3"/>
<rect x="707" y="603" width="12" height="24" fill="#6a4fa3"/>
<rect x="707" y="627" width="12" height="5" fill="#5fc49b"/>
<rect x="707" y="632" width="12" height="11" fill="#3d6e9b"/>
<rect x="707" y="643" width="12" height="3" fill="#d8e0ed"/>
<rect x="707" y="646" width="12" height="2" fill="#a75db0"/>
<rect x="707" y="648" width="12" height="4" fill="#d8e0ed"/>
<rect x="707" y="652" width="12" height="4" fill="#8fd14f"/>
<rect x="707" y="656" width="12" height="4" fill="#7fcf8f"/>
<rect x="707" y="660" width="12" height="10" fill="#c8c3e3"/>
<rect x="707" y="670" width="12" height="4" fill="#d8e0ed"/>
<rect x="707" y="674" width="12" height="7" fill="#f39b3a"/>
<rect x="707" y="681" width="12" height="3" fill="#3b3233"/>
<rect x="707" y="684" width="12" height="6" fill="#d8e0ed"/>
<rect x="724" y="18" width="12" height="672" fill="#7d4fa5"/>
<rect x="724" y="22" width="12" height="9" fill="#6a96d6"/>
<rect x="724" y="36" width="12" height="3" fill="#d9b04a"/>
<rect x="724" y="42" width="12" height="3" fill="#5fc49b"/>
<rect x="724" y="45" width="12" height="4" fill="#6a96d6"/>
<rect x="724" y="54" width="12" height="2" fill="#5fc49b"/>
<rect x="724" y="58" width="12" height="2" fill="#6a96d6"/>
<rect x="724" y="62" width="12" height="5" fill="#6b66b3"/>
<rect x="724" y="71" width="12" height="3" fill="#5fc49b"/>
<rect x="724" y="78" width="12" height="11" fill="#6b66b3"/>
<rect x="724" y="91" width="12" height="3" fill="#5fc49b"/>
<rect x="724" y="96" width="12" height="4" fill="#6b66b3"/>
<rect x="724" y="103" width="12" height="6" fill="#6b66b3"/>
<rect x="724" y="120" width="12" height="5" fill="#e04a8a"/>
<rect x="724" y="125" width="12" height="9" fill="#5fc49b"/>
<rect x="724" y="134" width="12" height="4" fill="#5cb85c"/>
<rect x="724" y="185" width="12" height="2" fill="#6a96d6"/>
<rect x="724" y="455" width="12" height="5" fill="#c3c1df"/>
<rect x="724" y="473" width="12" height="4" fill="#5fc49b"/>
<rect x="724" y="477" width="12" height="3" fill="#6a96d6"/>
<rect x="724" y="480" width="12" height="7" fill="#6b66b3"/>
<rect x="724" y="487" width="12" height="4" fill="#d9b04a"/>
<rect x="724" y="491" width="12" height="5" fill="#6b66b3"/>
<rect x="724" y="518" width="12" height="7" fill="#5cb85c"/>
<rect x="724" y="527" width="12" height="4" fill="#6b66b3"/>
<rect x="724" y="534" width="12" height="2" fill="#d9b04a"/>
<rect x="724" y="538" width="12" height="2" fill="#5fc49b"/>
<rect x="724" y="542" width="12" height="3" fill="#b8dc9a"/>
<rect x="724" y="547" width="12" height="3" fill="#5cb85c"/>
<rect x="724" y="554" width="12" height="2" fill="#6b66b3"/>
<rect x="724" y="558" width="12" height="4" fill="#5fc49b"/>
<rect x="724" y="565" width="12" height="3" fill="#b8dc9a"/>
<rect x="724" y="571" width="12" height="3" fill="#5cb85c"/>
<rect x="724" y="581" width="12" height="2" fill="#5fc49b"/>
<rect x="724" y="590" width="12" height="4" fill="#d98a98"/>
<rect x="724" y="600" width="12" height="3" fill="#e0653f"/>
<rect x="724" y="607" width="12" height="2" fill="#b8dc9a"/>
<rect x="724" y="634" width="12" height="2" fill="#5fc49b"/>
<rect x="724" y="643" width="12" height="2" fill="#5fc49b"/>
<rect x="724" y="652" width="12" height="2" fill="#6a96d6"/>
<rect x="724" y="656" width="12" height="4" fill="#e0653f"/>
<rect x="724" y="661" width="12" height="2" fill="#d9b04a"/>
<rect x="724" y="665" width="12" height="5" fill="#6a96d6"/>
<rect x="724" y="672" width="12" height="2" fill="#6b66b3"/>
<rect x="724" y="676" width="12" height="2" fill="#e0653f"/>
<rect x="724" y="681" width="12" height="2" fill="#5fc49b"/>
<rect x="724" y="685" width="12" height="5" fill="#d98a98"/>
<rect x="742" y="18" width="18" height="241" fill="url(#pAl)"/>
<rect x="742" y="270" width="18" height="18" fill="url(#pAl)"/>
<rect x="742" y="295" width="18" height="3" fill="url(#pAl)"/>
<rect x="742" y="300" width="18" height="18" fill="url(#pAl)"/>
<rect x="742" y="329" width="18" height="2.2" fill="url(#pAl)"/>
<rect x="742" y="355" width="18" height="2.2" fill="url(#pAl)"/>
<rect x="742" y="536" width="18" height="45" fill="url(#pDe)"/>
<rect x="742" y="603" width="18" height="24" fill="url(#pB3)"/>
</g>

<g id="legendA">
<text class="h" x="2" y="710">Traveller (ring 1)</text>
<rect class="sw" x="1" y="715.5" width="13" height="7" fill="#231f20"/>
<text class="t" x="18" y="722.5">False</text>
<text class="h" x="2" y="739">Lineage (ring 2)</text>
<text class="h" x="140" y="740.5">Region (ring 3)</text>
<g class="sw">
<rect x="1" y="746.5" width="13" height="7" fill="#f39b3a"/>
<rect x="1" y="760.3" width="13" height="7" fill="#a14ea0"/>
<rect x="1" y="774.1" width="13" height="7" fill="#3b3233"/>
<rect x="1" y="787.9" width="13" height="7" fill="#4062b5"/>
<rect x="1" y="801.7" width="13" height="7" fill="#ebebe3"/>
<rect x="1" y="815.5" width="13" height="7" fill="#d8e0ed"/>
<rect x="1" y="829.3" width="13" height="7" fill="#e6b23c"/>
<rect x="1" y="843.1" width="13" height="7" fill="#e8334f"/>
<rect x="1" y="856.9" width="13" height="7" fill="#76c4c4"/>
<rect x="1" y="870.7" width="13" height="7" fill="#8370b6"/>
<rect x="72" y="746.5" width="13" height="7" fill="#b185c7"/>
<rect x="72" y="760.3" width="13" height="7" fill="#f5b6d3"/>
<rect x="72" y="774.1" width="13" height="7" fill="#6cc7a0"/>
<rect x="72" y="787.9" width="13" height="7" fill="#5ec9d6"/>
<rect x="72" y="801.7" width="13" height="7" fill="#a8b0ad"/>
<rect x="72" y="815.5" width="13" height="7" fill="#b2516a"/>
<rect x="72" y="829.3" width="13" height="7" fill="#e2c4e4"/>
<rect x="72" y="843.1" width="13" height="7" fill="#c0cce6"/>
<rect x="72" y="856.9" width="13" height="7" fill="#bcd84e"/>
<rect x="72" y="870.7" width="13" height="7" fill="#5bbf95"/>
<rect x="140" y="746.5" width="13" height="7" fill="#b45fb0"/>
<rect x="140" y="760.3" width="13" height="7" fill="#d9b04a"/>
<rect x="140" y="774.1" width="13" height="7" fill="#c3c1df"/>
<rect x="140" y="787.9" width="13" height="7" fill="#e0653f"/>
<rect x="140" y="801.7" width="13" height="7" fill="#5fc49b"/>
<rect x="239" y="746.5" width="13" height="7" fill="#6a96d6"/>
<rect x="239" y="760.3" width="13" height="7" fill="#d98a98"/>
<rect x="239" y="774.1" width="13" height="7" fill="#c4a482"/>
<rect x="239" y="787.9" width="13" height="7" fill="#7d4fa5"/>
<rect x="239" y="801.7" width="13" height="7" fill="#6b66b3"/>
</g>
<g class="t">
<text x="17" y="753.5">A</text><text x="17" y="767.3">A.11</text><text x="17" y="781.1">A.5</text><text x="17" y="794.9">B</text><text x="17" y="808.7">B.1</text><text x="17" y="822.5">B.1.1</text><text x="17" y="836.3">B.1.1.1</text><text x="17" y="850.1">B.1.1.138</text><text x="17" y="863.9">B.1.1.174</text><text x="17" y="877.7">B.1.1.269</text>
<text x="88" y="753.5">B.1.1.28</text><text x="88" y="767.3">B.1.1.315</text><text x="88" y="781.1">B.1.1.401</text><text x="88" y="794.9">B.1.1.409</text><text x="88" y="808.7">B.1.1.485</text><text x="88" y="822.5">B.1.1.7</text><text x="88" y="836.3">B.1.382</text><text x="88" y="850.1">B.1.383</text><text x="88" y="863.9">B.1.609</text><text x="88" y="877.7">None</text>
<text x="157" y="753.5">Central America</text><text x="157" y="767.3">East Asia</text><text x="157" y="781.1">Middle Africa</text><text x="157" y="794.9">North Africa</text><text x="157" y="808.7">North America</text>
<text x="256" y="753.5">North Europe</text><text x="256" y="767.3">South America</text><text x="256" y="781.1">Southeast Asia</text><text x="256" y="794.9">West Africa</text><text x="256" y="808.7">West Europe</text>
</g>
<text class="h" x="140" y="837.5">Location</text>
<circle class="gh" cx="147" cy="846.7" r="3.3"/>
<text class="t" x="157" y="850.2">Ghana</text>
<circle class="in" cx="147" cy="860.7" r="3.3"/>
<text class="t" x="157" y="864.2">International</text>
<text class="h" x="142" y="891">Variant of concern (ring 4)</text>
<polygon points="143.5,896 148.5,896 146,906" fill="#8e5cc2"/>
<polygon points="143.5,909.3 148.5,909.3 146,919.3" fill="#e08a80"/>
<polygon points="143.5,923 148.5,923 146,933" fill="#7fd0d2"/>
<polygon points="143.5,936.3 148.5,936.3 146,946.3" fill="#8bcf6a"/>
<g class="t">
<text x="152" y="904.2">B.1.1.318 (type A)</text><text x="152" y="917.5">Alpha</text><text x="152" y="931.2">Delta (type A)</text><text x="152" y="944.5">Omicron</text>
</g>
</g>

<g id="legendB">
<text class="h" x="433" y="710">Traveller (ring 1)</text>
<rect class="sw" x="432" y="716" width="13" height="7" fill="#231f20"/>
<text class="t" x="449" y="723">False</text>
<rect class="sw" x="432" y="729.5" width="13" height="7" fill="#b5bcc4"/>
<text class="t" x="449" y="736.5">True</text>
<text class="h" x="521" y="710">Location</text>
<circle class="gh" cx="524" cy="719.3" r="3.3"/>
<text class="t" x="531" y="722.8">Ghana</text>
<circle class="in" cx="524" cy="733" r="3.3"/>
<text class="t" x="531" y="736.5">International</text>
<text class="h" x="433" y="758">Lineage (ring 2)</text>
<text class="h" x="586" y="758">Region (ring 3)</text>
<g class="sw">
<rect x="432" y="766.2" width="13" height="7" fill="#f39b3a"/>
<rect x="432" y="780" width="13" height="7" fill="#d8c09a"/>
<rect x="432" y="793.8" width="13" height="7" fill="#c8c3e3"/>
<rect x="432" y="807.5" width="13" height="7" fill="#3b3233"/>
<rect x="432" y="821.3" width="13" height="7" fill="#4fbf85"/>
<rect x="432" y="835.1" width="13" height="7" fill="#8fd3b5"/>
<rect x="432" y="848.9" width="13" height="7" fill="#2da6e0"/>
<rect x="432" y="862.7" width="13" height="7" fill="#d663b5"/>
<rect x="432" y="876.4" width="13" height="7" fill="#3fb870"/>
<rect x="432" y="890.2" width="13" height="7" fill="#9b87c9"/>
<rect x="432" y="904" width="13" height="7" fill="#9a8570"/>
<rect x="432" y="917.8" width="13" height="7" fill="#6a4fa3"/>
<rect x="432" y="931.6" width="13" height="7" fill="#ebebe3"/>
<rect x="432" y="945.3" width="13" height="7" fill="#d8e0ed"/>
<rect x="432" y="959.1" width="13" height="7" fill="#7fcf8f"/>
<rect x="502" y="766.2" width="13" height="7" fill="#c39bd3"/>
<rect x="502" y="780" width="13" height="7" fill="#6a4fa3"/>
<rect x="502" y="793.8" width="13" height="7" fill="#8fd14f"/>
<rect x="502" y="807.5" width="13" height="7" fill="#3d6e9b"/>
<rect x="502" y="821.3" width="13" height="7" fill="#b2516a"/>
<rect x="502" y="835.1" width="13" height="7" fill="#a75db0"/>
<rect x="502" y="848.9" width="13" height="7" fill="#b8b56a"/>
<rect x="502" y="862.7" width="13" height="7" fill="#dde56a"/>
<rect x="502" y="876.4" width="13" height="7" fill="#bcaa78"/>
<rect x="502" y="890.2" width="13" height="7" fill="#3d7a6a"/>
<rect x="502" y="904" width="13" height="7" fill="#d98390"/>
<rect x="502" y="917.8" width="13" height="7" fill="#5cb860"/>
<rect x="502" y="931.6" width="13" height="7" fill="#c8ece4"/>
<rect x="502" y="945.3" width="13" height="7" fill="#5fc49b"/>
<rect x="583" y="766.2" width="13" height="7" fill="#e04a8a"/>
<rect x="583" y="780" width="13" height="7" fill="#b45fb0"/>
<rect x="583" y="793.8" width="13" height="7" fill="#d59ad0"/>
<rect x="583" y="807.5" width="13" height="7" fill="#d9b04a"/>
<rect x="583" y="821.3" width="13" height="7" fill="#c3c1df"/>
<rect x="583" y="835.1" width="13" height="7" fill="#e0653f"/>
<rect x="583" y="848.9" width="13" height="7" fill="#5fc49b"/>
<rect x="682" y="766.2" width="13" height="7" fill="#6a96d6"/>
<rect x="682" y="780" width="13" height="7" fill="#d98a98"/>
<rect x="682" y="793.8" width="13" height="7" fill="#5cb85c"/>
<rect x="682" y="807.5" width="13" height="7" fill="#b8dc9a"/>
<rect x="682" y="821.3" width="13" height="7" fill="#7d4fa5"/>
<rect x="682" y="835.1" width="13" height="7" fill="#6b66b3"/>
</g>
<g class="t">
<text x="449" y="773.2">A</text><text x="449" y="787">A.12</text><text x="449" y="800.8">A.23.1</text><text x="449" y="814.5">A.5</text><text x="449" y="828.3">AY.14</text><text x="449" y="842.1">AY.53</text><text x="449" y="855.9">AY.54</text><text x="449" y="869.7">AY.59</text><text x="449" y="883.4">AY.70</text><text x="449" y="897.2">AY.75</text><text x="449" y="911">AY.85</text><text x="449" y="924.8">AY.88</text><text x="449" y="938.6">B.1</text><text x="449" y="952.3">B.1.1</text><text x="449" y="966.1">B.1.1.306</text>
<text x="518" y="773.2">B.1.1.307</text><text x="518" y="787">B.1.1.318</text><text x="518" y="800.8">B.1.1.48</text><text x="518" y="814.5">B.1.1.519</text><text x="518" y="828.3">B.1.1.7</text><text x="518" y="842.1">B.1.1.82</text><text x="518" y="855.9">B.1.351</text><text x="518" y="869.7">B.1.351.2</text><text x="518" y="883.4">B.1.525</text><text x="518" y="897.2">B.1.526</text><text x="518" y="911">B.1.617.1</text><text x="518" y="924.8">B.1.617.2</text><text x="518" y="938.6">B.1.620</text><text x="518" y="952.3">None</text>
<text x="600" y="773.2">Caribbean</text><text x="600" y="787">Central America</text><text x="600" y="800.8">East Africa</text><text x="600" y="814.5">East Asia</text><text x="600" y="828.3">Middle Africa</text><text x="600" y="842.1">North Africa</text><text x="600" y="855.9">North America</text>
<text x="698" y="773.2">North Europe</text><text x="698" y="787">South America</text><text x="698" y="800.8">South Africa</text><text x="698" y="814.5">South Asia</text><text x="698" y="828.3">West Africa</text><text x="698" y="842.1">West Europe</text>
</g>
<text class="h" x="586" y="877">Variant of concern (ring 4)</text>
<polygon points="588,885 593,885 590.5,895" fill="#8e5cc2"/>
<polygon points="588,898.3 593,898.3 590.5,908.3" fill="#e08a80"/>
<polygon points="588,912.3 593,912.3 590.5,922.3" fill="#7fd0d2"/>
<polygon points="588,925.7 593,925.7 590.5,935.7" fill="#8bcf6a"/>
<g class="t">
<text x="602" y="893.5">B.1.1.318 (type A)</text><text x="602" y="906.8">Alpha</text><text x="602" y="920.8">Delta (type A)</text><text x="602" y="934.2">Omicron</text>
</g>
</g>
</svg>
